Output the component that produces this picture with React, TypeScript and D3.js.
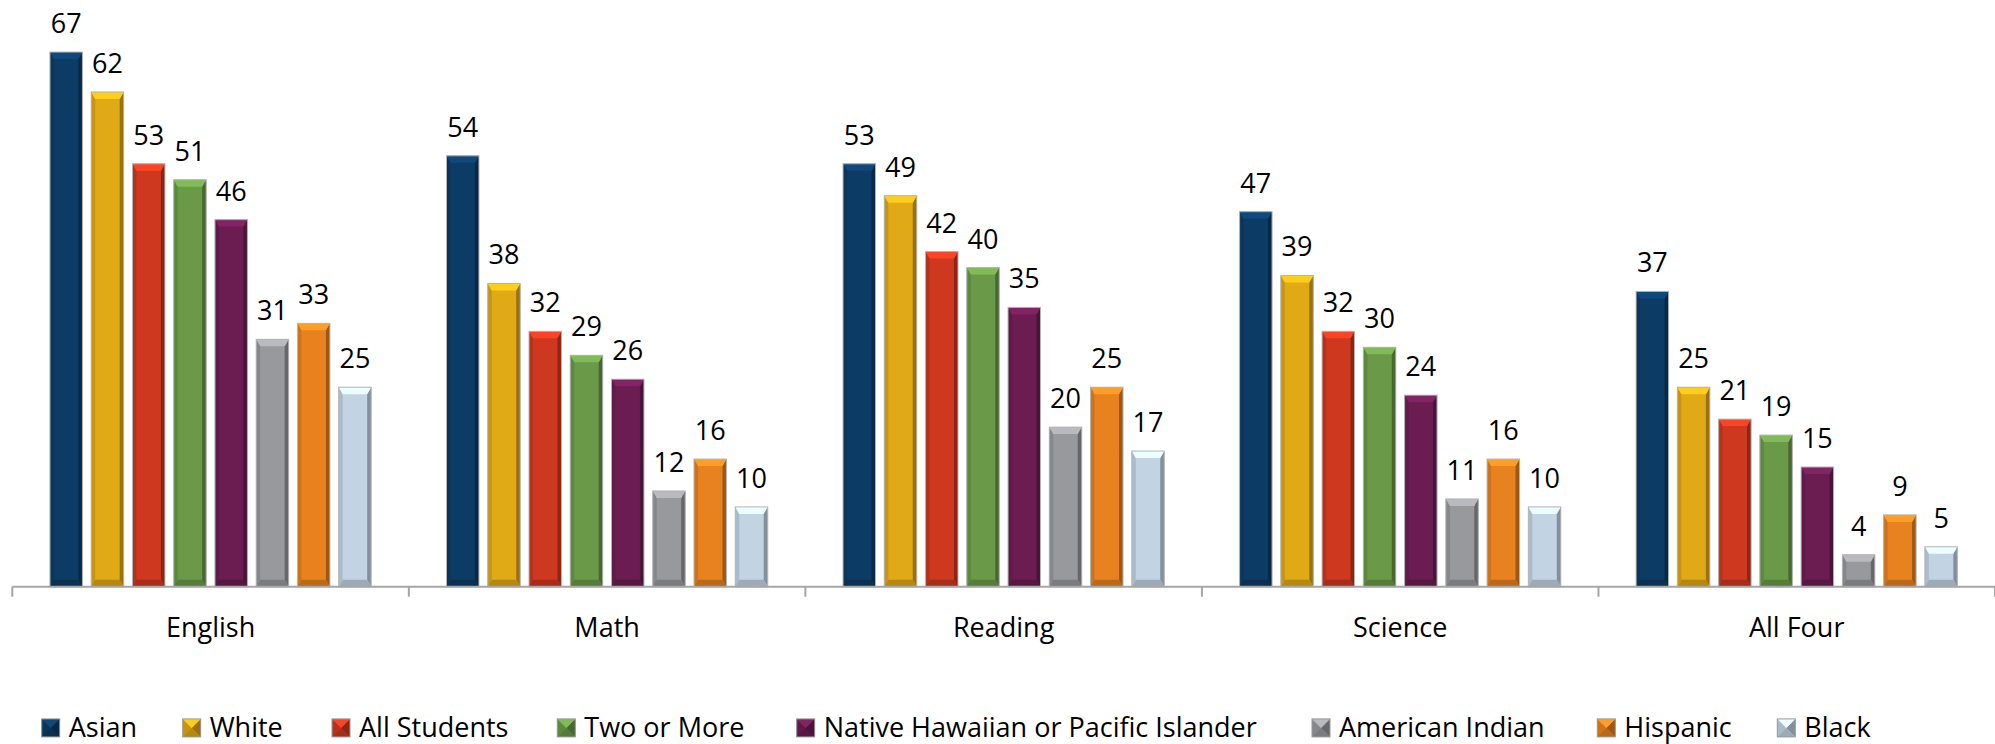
import React from "react";
import * as d3 from "d3";

const categories = ["English", "Math", "Reading", "Science", "All Four"];
const seriesNames = [
  "Asian",
  "White",
  "All Students",
  "Two or More",
  "Native Hawaiian or Pacific Islander",
  "American Indian",
  "Hispanic",
  "Black",
];
const asian = [67, 54, 53, 47, 37];
const white = [62, 38, 49, 39, 25];
const allStudents = [53, 32, 42, 32, 21];
const twoOrMore = [51, 29, 40, 30, 19];
const nativeHawaiian = [46, 26, 35, 24, 15];
const americanIndian = [31, 12, 20, 11, 4];
const hispanic = [33, 16, 25, 16, 9];
const black = [25, 10, 17, 10, 5];
const seriesValues = [asian, white, allStudents, twoOrMore, nativeHawaiian, americanIndian, hispanic, black];
const seriesColors = ["#0C3C66", "#E0A916", "#CE381F", "#6A9A48", "#6B1D52", "#98999D", "#E8821F", "#C2D4E4"];

// layout
const W = 1995;
const H = 744;
const axisY = 586.7;
const plotLeft = 12.3;
const plotRight = 1995;
const legendX = [41.7, 182.7, 332, 557.3, 796.7, 1312, 1597.3, 1777.3];
const legendBaseline = 736.5;
const FONT = "'Open Sans', 'Noto Sans', sans-serif";

function bevelPolys(x: number, y: number, w: number, h: number, bxMax: number, byMax: number) {
  const bx = Math.min(bxMax, w / 2);
  const by = Math.min(byMax, h / 2);
  const pt = (a: number[][]) => a.map((p) => p.join(",")).join(" ");
  return {
    top: pt([[x, y], [x + w, y], [x + w - bx, y + by], [x + bx, y + by]]),
    left: pt([[x, y], [x + bx, y + by], [x + bx, y + h - by], [x, y + h]]),
    right: pt([[x + w, y], [x + w - bx, y + by], [x + w - bx, y + h - by], [x + w, y + h]]),
    bottom: pt([[x, y + h], [x + bx, y + h - by], [x + w - bx, y + h - by], [x + w, y + h]]),
  };
}

function BevelBox({ x, y, w, h, color, bx, by, stroke }: any) {
  const c = d3.color(color)!;
  const p = bevelPolys(x, y, w, h, bx, by);
  return (
    <g>
      <rect x={x} y={y} width={w} height={h} fill={color} />
      <polygon points={p.left} fill={c.darker(0.35).toString()} />
      <polygon points={p.right} fill={c.darker(1.1).toString()} />
      <polygon points={p.bottom} fill={c.darker(0.6).toString()} />
      <polygon points={p.top} fill={c.brighter(0.55).toString()} />
      <rect x={x} y={y} width={w} height={h} fill="none" stroke={stroke} strokeWidth={1} />
    </g>
  );
}

export default function App() {
  const x0 = d3.scaleBand<string>().domain(categories).range([plotLeft, plotRight]).padding(0);
  const x1 = d3
    .scaleBand<string>()
    .domain(seriesNames)
    .range([0, x0.bandwidth()])
    .paddingInner(0.213)
    .paddingOuter(0.913);
  const y = d3.scaleLinear().domain([0, 70]).range([axisY, axisY - 70 * 7.98]);

  const ticks = [...categories.map((c) => x0(c)!), plotRight];

  return (
    <svg width={W} height={H} style={{ position: "absolute", left: 0, top: 0 }} fontFamily={FONT}>
      <rect width={W} height={H} fill="#fff" />
      {seriesNames.map((s, si) => (
        <g key={s}>
          {categories.map((c, ci) => {
            const v = seriesValues[si][ci];
            const bx = x0(c)! + x1(s)!;
            const bw = x1.bandwidth();
            const top = y(v);
            return (
              <g key={c}>
                <BevelBox x={bx} y={top} w={bw} h={axisY - top} color={seriesColors[si]} bx={4} by={7} stroke="#b5b5b5" />
                <text x={bx + bw / 2} y={top - 19} textAnchor="middle" fontSize={27} fill="#000">
                  {v}
                </text>
              </g>
            );
          })}
        </g>
      ))}
      <line x1={plotLeft} x2={plotRight} y1={axisY} y2={axisY} stroke="#a6a6a6" strokeWidth={2} />
      {ticks.map((t, i) => (
        <line key={i} x1={t} x2={t} y1={axisY} y2={axisY + 10} stroke="#a6a6a6" strokeWidth={2} />
      ))}
      {categories.map((c) => (
        <text key={c} x={x0(c)! + x0.bandwidth() / 2} y={636.5} textAnchor="middle" fontSize={27} fill="#000">
          {c}
        </text>
      ))}
      {seriesNames.map((s, i) => (
        <g key={s}>
          <BevelBox x={legendX[i]} y={legendBaseline - 17.6} w={18} h={18} color={seriesColors[i]} bx={9} by={9} stroke="#9a9a9a" />
          <text x={legendX[i] + 27} y={legendBaseline} fontSize={27} fill="#000">
            {s}
          </text>
        </g>
      ))}
    </svg>
  );
}
